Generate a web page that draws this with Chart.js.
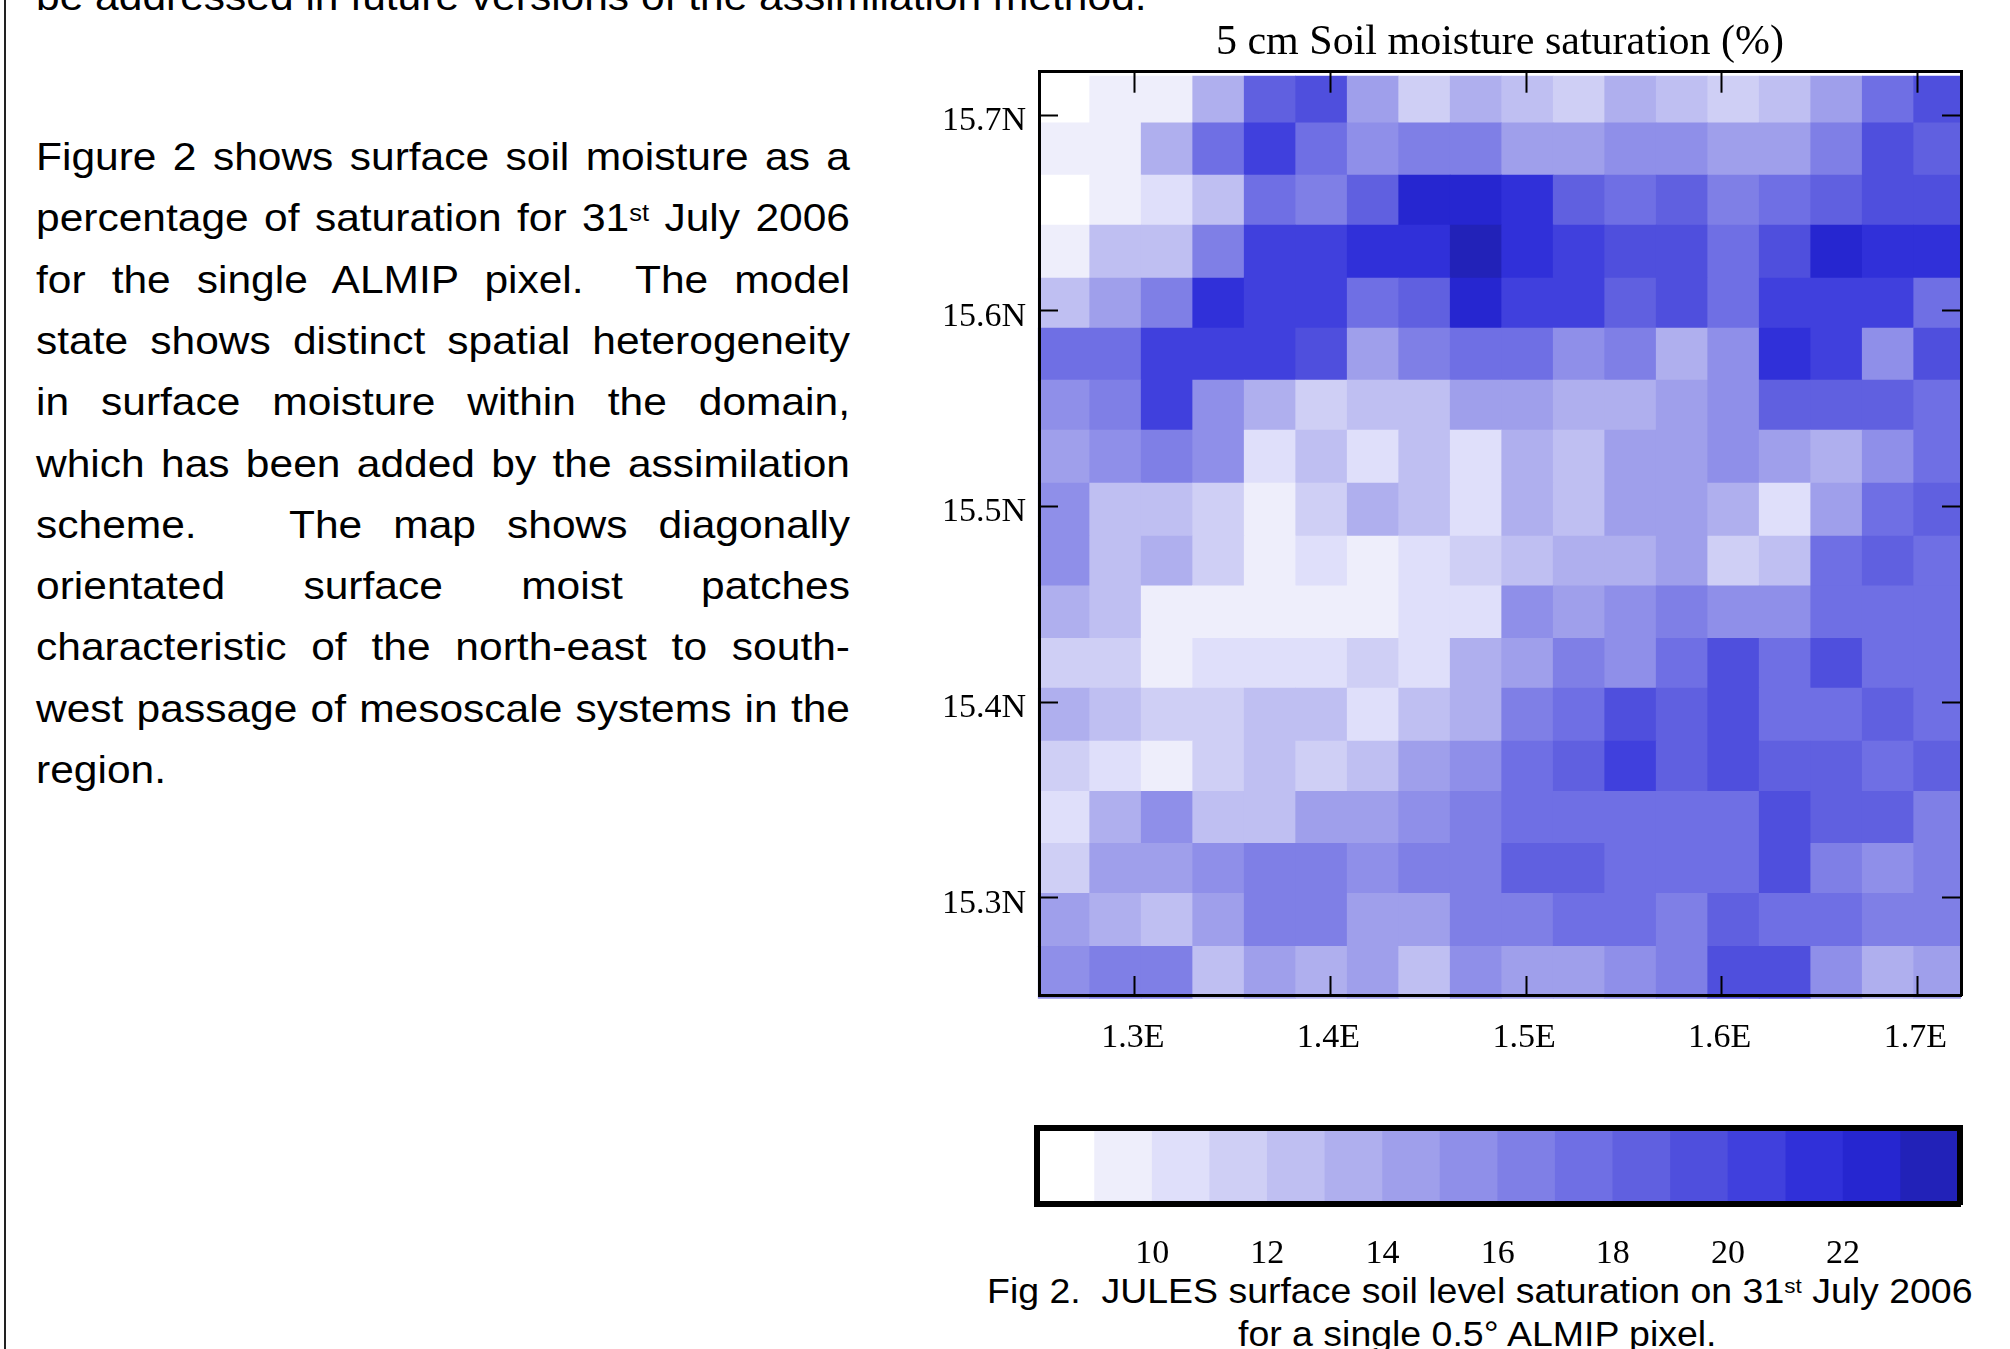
<!DOCTYPE html>
<html><head><meta charset="utf-8">
<script src="https://cdn.jsdelivr.net/npm/chart.js@4"></script>
<style>
html,body{margin:0;padding:0;background:#fff;width:2010px;height:1349px;overflow:hidden}
#page{position:relative;width:2010px;height:1349px;overflow:hidden;font-family:"Liberation Sans",Arial,sans-serif;color:#000}
#rule{position:absolute;left:4px;top:0;width:1.5px;height:1349px;background:#222}
.ln{position:absolute;white-space:nowrap;transform-origin:0 0;font-size:39px;line-height:46px}
.just{text-align:justify;text-align-last:justify;white-space:normal}
sup{font-size:60%;line-height:0;vertical-align:baseline;position:relative;top:-0.45em}
canvas{position:absolute}
</style></head><body><div id="page">
<div id="rule"></div>
<div id="text"></div>
<canvas id="map" width="1070" height="1090" style="left:940px;top:0;width:1070px;height:1090px"></canvas>
<canvas id="bar" width="1070" height="180" style="left:940px;top:1100px;width:1070px;height:180px"></canvas>
</div>
<script>
const titleText='5 cm Soil moisture saturation (%)';
const lonTicks=[1.3,1.4,1.5,1.6,1.7];
const latTicks=[15.3,15.4,15.5,15.6,15.7];
const barTicks=[10,12,14,16,18,20,22];
const lonCenters=[1.26375,1.29008,1.31640,1.34273,1.36905,1.39538,1.42171,1.44803,1.47436,1.50068,1.52701,1.55334,1.57966,1.60599,1.63231,1.65864,1.68497,1.71129];
const latEdges=[15.7201,15.6962,15.6695,15.6439,15.6168,15.5912,15.5646,15.5390,15.5119,15.4848,15.4594,15.4326,15.4071,15.3800,15.3544,15.3278,15.3022,15.2751,15.2485];
const row01=[8.5,9.5,9.5,13.5,18.5,19.5,14.5,11.5,13.5,12.5,11.5,13.5,12.5,11.5,12.5,14.5,17.5,19.5];
const row02=[9.5,9.5,13.5,17.5,20.5,17.5,15.5,16.5,16.5,14.5,14.5,15.5,15.5,14.5,14.5,16.5,19.5,18.5];
const row03=[8.5,9.5,10.5,12.5,17.5,16.5,18.5,22.5,22.5,21.5,18.5,17.5,18.5,16.5,17.5,18.5,19.5,19.5];
const row04=[9.5,12.5,12.5,16.5,20.5,20.5,21.5,21.5,23.5,21.5,20.5,19.5,19.5,17.5,19.5,22.5,21.5,21.5];
const row05=[12.5,14.5,16.5,21.5,20.5,20.5,17.5,18.5,22.5,20.5,20.5,18.5,19.5,17.5,20.5,20.5,20.5,17.5];
const row06=[17.5,17.5,20.5,20.5,20.5,19.5,14.5,16.5,17.5,17.5,15.5,16.5,13.5,15.5,21.5,20.5,15.5,19.5];
const row07=[15.5,16.5,20.5,15.5,13.5,11.5,12.5,12.5,14.5,14.5,13.5,13.5,14.5,15.5,18.5,18.5,18.5,17.5];
const row08=[14.5,15.5,16.5,15.5,10.5,12.5,10.5,12.5,10.5,13.5,12.5,14.5,14.5,15.5,14.5,13.5,15.5,17.5];
const row09=[15.5,12.5,12.5,11.5,9.5,11.5,13.5,12.5,10.5,13.5,12.5,14.5,14.5,13.5,10.5,14.5,17.5,18.5];
const row10=[15.5,12.5,13.5,11.5,9.5,10.5,9.5,10.5,11.5,12.5,13.5,13.5,14.5,11.5,12.5,17.5,18.5,17.5];
const row11=[13.5,12.5,9.5,9.5,9.5,9.5,9.5,10.5,10.5,15.5,14.5,15.5,16.5,15.5,15.5,17.5,17.5,17.5];
const row12=[11.5,11.5,9.5,10.5,10.5,10.5,11.5,10.5,13.5,14.5,16.5,15.5,17.5,19.5,17.5,19.5,17.5,17.5];
const row13=[13.5,12.5,11.5,11.5,12.5,12.5,10.5,12.5,13.5,16.5,17.5,19.5,18.5,19.5,17.5,17.5,18.5,17.5];
const row14=[11.5,10.5,9.5,11.5,12.5,11.5,12.5,14.5,15.5,17.5,18.5,20.5,18.5,19.5,18.5,18.5,17.5,18.5];
const row15=[10.5,13.5,15.5,12.5,12.5,14.5,14.5,15.5,16.5,17.5,17.5,17.5,17.5,17.5,19.5,18.5,18.5,16.5];
const row16=[11.5,14.5,14.5,15.5,16.5,16.5,15.5,16.5,16.5,18.5,18.5,17.5,17.5,17.5,19.5,16.5,15.5,16.5];
const row17=[14.5,13.5,12.5,14.5,16.5,16.5,14.5,14.5,16.5,16.5,17.5,17.5,16.5,18.5,17.5,17.5,16.5,16.5];
const row18=[15.5,16.5,16.5,12.5,14.5,13.5,14.5,12.5,15.5,14.5,14.5,15.5,16.5,19.5,19.5,15.5,13.5,14.5];
const rows=[row01,row02,row03,row04,row05,row06,row07,row08,row09,row10,row11,row12,row13,row14,row15,row16,row17,row18];
const binCenters=[8.5,9.5,10.5,11.5,12.5,13.5,14.5,15.5,16.5,17.5,18.5,19.5,20.5,21.5,22.5,23.5];
const binColors=['#ffffff','#eeeefb','#dfdffa','#cfcff5','#bfbff2','#afafee','#9f9feb','#8f8fe9','#7f7fe6','#6f6fe4','#6060e0','#4f4fdd','#4040dd','#3030d9','#2626d0','#2222b8'];
const colorOf=v=>binColors[Math.floor(v)-8];

/* body text */
const bodyLines=[
 ['be addressed in future versions of the assimilation method.',36,-26,null],
 ['Figure 2 shows surface soil moisture as a',36,134,814],
 ['percentage of saturation for 31<sup>st</sup> July 2006',36,195.3,814],
 ['for the single ALMIP pixel.&nbsp; The model',36,256.6,814],
 ['state shows distinct spatial heterogeneity',36,317.9,814],
 ['in surface moisture within the domain,',36,379.2,814],
 ['which has been added by the assimilation',36,440.5,814],
 ['scheme.&nbsp;&nbsp; The map shows diagonally',36,501.8,814],
 ['orientated surface moist patches',36,563.1,814],
 ['characteristic of the north-east to south-',36,624.4,814],
 ['west passage of mesoscale systems in the',36,685.7,814],
 ['region.',36,747,null]
];
const sx=1.09;
const host=document.getElementById('text');
for(const [t,x,y,w] of bodyLines){
  const d=document.createElement('div');d.className='ln'+(w?' just':'');d.innerHTML=t;
  d.style.left=x+'px';d.style.top=y+'px';d.style.transform='scaleX('+sx+')';
  if(w)d.style.width=(w/sx)+'px';
  host.appendChild(d);
}
const capLines=[['Fig 2.&nbsp; JULES surface soil level saturation on 31<sup>st</sup> July 2006',987,1269.5],['for a single 0.5° ALMIP pixel.',1238,1313]];
for(const [t,x,y] of capLines){
  const d=document.createElement('div');d.className='ln';d.innerHTML=t;
  d.style.left=x+'px';d.style.top=y+'px';d.style.fontSize='35px';d.style.lineHeight='42px';d.style.transform='scaleX(1.07)';
  host.appendChild(d);
}

/* charts */
const SERIF='"Liberation Serif","Times New Roman",serif';
const cells=[];
rows.forEach((r,j)=>r.forEach((v,i)=>cells.push({x:lonCenters[i],y:[latEdges[j+1],latEdges[j]],v})));
const fix=(w,h)=>s=>{if(w!=null)s.width=w;if(h!=null)s.height=h;};
const setTicks=a=>s=>{s.ticks=a.map(v=>({value:v}));};
const lonRange={min:1.2510,max:1.7223},latRange={min:15.2502,max:15.7223};
const frame={display:true,color:'#000',width:3,z:2};
const tickGrid=len=>({display:true,drawOnChartArea:false,drawTicks:true,tickLength:len,tickWidth:2,tickColor:'#000',color:'#000',z:2});
const labelFont={family:SERIF,size:34};
new Chart(document.getElementById('map'),{
 type:'bar',
 data:{datasets:[{data:cells,backgroundColor:c=>colorOf(c.raw.v),borderWidth:0,categoryPercentage:1,barPercentage:1,clip:{left:2,right:0,top:0,bottom:5}}]},
 options:{responsive:false,animation:false,events:[],
  layout:{padding:0},
  plugins:{legend:{display:false},tooltip:{enabled:false},
   title:{display:true,fullSize:false,text:titleText,color:'#000',font:{family:SERIF,size:42,weight:'normal',lineHeight:1.2},padding:{top:18,bottom:0}}},
  scales:{
   x:{type:'linear',position:'bottom',...lonRange,offset:false,grid:{...tickGrid(-19),offset:false},border:frame,
      afterBuildTicks:setTicks(lonTicks),afterFit:fix(null,95),
      ticks:{autoSkip:false,maxRotation:0,padding:42,labelOffset:-2,color:'#000',font:labelFont,callback:v=>v.toFixed(1)+'E'}},
   xTop:{type:'linear',position:'top',...lonRange,offset:false,grid:{...tickGrid(-21),offset:false},border:frame,
      afterBuildTicks:setTicks(lonTicks),afterFit:fix(null,3.3),ticks:{display:false}},
   y:{type:'linear',position:'left',...latRange,grid:tickGrid(-19),border:frame,
      afterBuildTicks:setTicks(latTicks),afterFit:fix(99,null),
      ticks:{autoSkip:false,padding:32,labelOffset:6,color:'#000',font:labelFont,callback:v=>v.toFixed(1)+'N'}},
   yRight:{type:'linear',position:'right',...latRange,grid:tickGrid(-19),border:frame,
      afterBuildTicks:setTicks(latTicks),afterFit:fix(49,null),ticks:{display:false}}
  }}
});
const barFrame={display:true,color:'#000',width:6,z:2};
const off={display:false,drawTicks:false};
const barRange={min:8.0,max:24.03};
new Chart(document.getElementById('bar'),{
 type:'bar',
 data:{datasets:[{data:binCenters.map(v=>({x:v,y:[0,1]})),backgroundColor:binColors,borderWidth:0,categoryPercentage:1,barPercentage:1,clip:false}]},
 options:{responsive:false,animation:false,events:[],layout:{padding:0},
  plugins:{legend:{display:false},tooltip:{enabled:false},title:{display:false}},
  scales:{
   x:{type:'linear',position:'bottom',...barRange,offset:false,grid:{...off,offset:false},border:barFrame,
      afterBuildTicks:setTicks(barTicks),afterFit:fix(null,76),
      ticks:{autoSkip:false,maxRotation:0,padding:30,color:'#000',font:labelFont,callback:v=>String(v)}},
   xTop:{type:'linear',position:'top',...barRange,offset:false,grid:{...off,offset:false},border:barFrame,afterFit:fix(null,28),ticks:{display:false}},
   y:{type:'linear',position:'left',min:0,max:1,grid:off,border:barFrame,afterFit:fix(97,null),ticks:{display:false}},
   yRight:{type:'linear',position:'right',min:0,max:1,grid:off,border:barFrame,afterFit:fix(50,null),ticks:{display:false}}
  }}
});
</script></body></html>
